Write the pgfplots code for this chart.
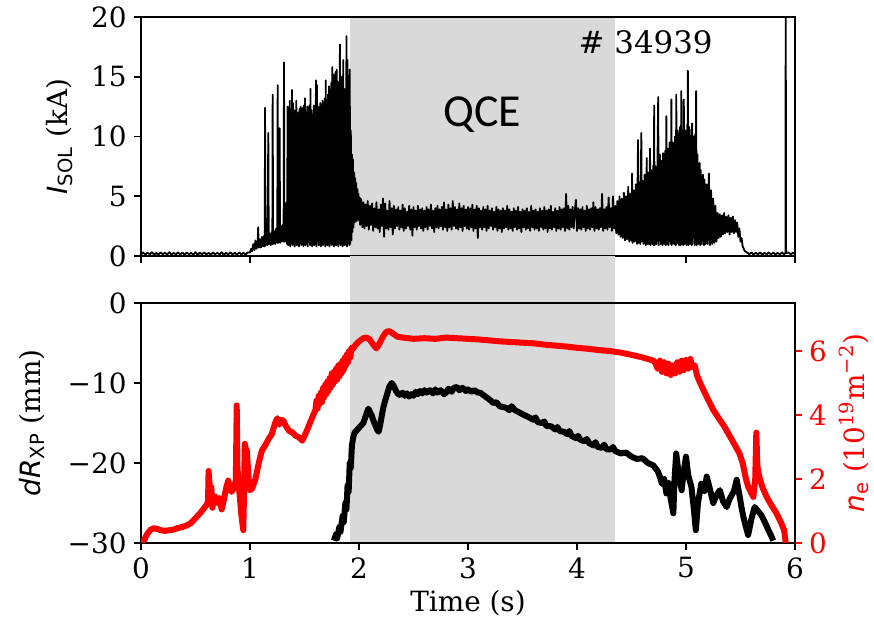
\documentclass[border=0pt]{standalone}
\usepackage{fontspec}
\setmainfont{DejaVu Serif}
\setsansfont{DejaVu Sans}
\newfontfamily\qcefont{Carlito}
\usepackage{pgfplots}
\pgfplotsset{compat=1.18}
\definecolor{qceshade}{RGB}{217,217,217}
\definecolor{nered}{RGB}{255,0,0}

\pgfplotsset{
  panel/.style={
    scale only axis, width=327bp, xmin=0, xmax=6,
    xtick={0,1,...,6},
    tick align=outside, major tick length=3.5bp,
    tick style={line width=0.8bp, black},
    line width=0.8bp,
    font=\fontsize{14}{16}\selectfont,
    /pgf/number format/assume math mode=true,
    xtick pos=left, ytick pos=left,
    axis on top,
  },
}

\begin{document}
\begin{tikzpicture}
\path[use as bounding box] (-70.5bp,-41bp) rectangle (366.5bp,271.5bp);

% ---------------- upper panel: SOL current ----------------
\begin{axis}[panel, name=top, at={(0,143.5bp)}, anchor=south west,
  height=119.5bp, ymin=0, ymax=20, ytick={0,5,10,15,20},
  xticklabel style={text opacity=0},
  ylabel={{\sffamily\itshape I}\textsubscript{\sffamily SOL} (kA)},
  every axis y label/.style={at={(axis description cs:-0.125,0.5)},rotate=90,anchor=center}]
\addplot[fill=qceshade, draw=none] coordinates {(1.92,0)(1.92,20)(4.35,20)(4.35,0)};
\addplot[black, line width=0.9bp, line join=round] coordinates {
(0.00,0.12)(0.02,0.30)(0.04,0.10)(0.06,0.28)(0.08,0.14)(0.10,0.32)(0.12,0.12)(0.14,0.26)(0.16,0.10)(0.18,0.30)
(0.20,0.14)(0.22,0.28)(0.24,0.12)(0.26,0.32)(0.28,0.10)(0.30,0.26)(0.32,0.14)(0.34,0.30)(0.36,0.12)(0.38,0.28)
(0.40,0.10)(0.42,0.30)(0.44,0.14)(0.46,0.26)(0.48,0.12)(0.50,0.32)(0.52,0.10)(0.54,0.28)(0.56,0.14)(0.58,0.30)
(0.60,0.12)(0.62,0.26)(0.64,0.10)(0.66,0.30)(0.68,0.14)(0.70,0.28)(0.72,0.12)(0.74,0.32)(0.76,0.10)(0.78,0.26)
(0.80,0.14)(0.82,0.30)(0.84,0.12)(0.86,0.28)(0.88,0.10)(0.90,0.30)(0.92,0.14)(0.94,0.26)(0.96,0.12)(0.98,0.30)
(1.00,0.3)(1.01,0.6)(1.02,0.4)(1.03,1.0)(1.04,0.5)(1.05,1.3)(1.06,0.6)(1.07,1.2)(1.075,2.4)(1.08,0.7)
(1.09,1.4)(1.10,0.7)(1.11,1.6)(1.12,0.8)(1.13,1.7)(1.135,0.8)(1.138,12.4)(1.142,0.9)(1.15,1.8)(1.16,0.9)
(1.168,10.3)(1.172,1.0)(1.18,1.9)(1.19,0.9)(1.20,2.0)(1.205,1.0)(1.208,13.5)(1.212,1.0)(1.22,2.1)(1.23,1.0)
(1.24,2.3)(1.25,1.1)(1.254,14.3)(1.258,1.1)(1.265,2.4)(1.268,1.2)(1.272,10.7)(1.276,1.1)(1.285,2.5)(1.29,1.2)
(1.30,2.6)(1.308,1.2)(1.312,16.2)(1.316,1.2)(1.325,3.0)(1.33,1.2)(1.335,4.5)
(1.340,1.0)(1.345,12.5)(1.350,0.9)(1.355,11.8)(1.360,1.2)(1.365,13.0)(1.370,0.8)(1.375,12.0)(1.380,1.1)(1.385,13.9)
(1.390,0.9)(1.395,12.8)(1.400,1.0)(1.405,12.2)(1.410,0.8)(1.415,11.5)(1.420,1.2)(1.425,13.0)(1.430,0.9)(1.435,11.0)
(1.440,1.0)(1.445,12.0)(1.450,0.8)(1.455,12.3)(1.460,1.1)(1.465,12.5)(1.470,0.9)(1.475,11.8)(1.480,1.0)(1.485,12.4)
(1.490,0.8)(1.495,12.6)(1.500,1.1)(1.505,13.2)(1.510,0.9)(1.515,12.0)(1.520,1.0)(1.525,12.5)(1.530,0.8)(1.535,11.5)
(1.540,1.2)(1.545,12.6)(1.550,0.9)(1.555,14.0)(1.560,1.0)(1.565,12.2)(1.570,0.8)(1.575,11.8)(1.580,1.1)(1.585,12.6)
(1.590,0.9)(1.595,12.0)(1.600,1.0)(1.605,14.7)(1.610,0.8)(1.615,14.3)(1.620,1.2)(1.625,12.5)(1.630,0.9)(1.635,12.0)
(1.640,1.0)(1.645,12.8)(1.650,0.8)(1.655,12.6)(1.660,1.1)(1.665,13.0)(1.670,0.9)(1.675,12.4)(1.680,1.0)(1.685,13.2)
(1.690,0.8)(1.695,14.7)(1.700,1.2)(1.705,13.0)(1.710,0.9)(1.715,13.5)(1.720,1.0)(1.725,14.2)(1.730,0.8)(1.735,13.9)
(1.740,1.1)(1.745,14.5)(1.750,0.9)(1.755,15.8)(1.760,1.0)(1.765,15.2)(1.770,0.8)(1.775,15.0)(1.780,1.2)(1.785,15.4)
(1.790,0.9)(1.795,15.6)(1.800,1.0)(1.805,14.6)(1.810,0.8)(1.815,14.2)(1.820,1.1)(1.825,17.7)(1.830,0.9)(1.835,15.0)
(1.840,1.0)(1.845,13.5)(1.850,0.8)(1.855,16.4)(1.860,1.2)(1.865,14.0)(1.870,0.9)(1.875,13.0)(1.880,1.0)(1.885,18.4)
(1.890,0.8)(1.895,16.4)(1.900,1.1)(1.905,12.0)(1.910,0.9)(1.915,15.6)(1.920,1.0)(1.925,10.5)(1.930,1.3)(1.935,8.5)
(1.940,2.0)(1.945,8.1)(1.950,2.4)(1.955,7.0)(1.960,2.8)(1.965,6.5)(1.970,3.0)(1.975,6.1)(1.980,2.9)(1.985,5.6)
(1.990,3.1)(1.995,5.2)(2.000,3.0)(2.005,4.9)(2.010,2.6)(2.015,4.8)
(2.02,4.7)(2.03,2.4)(2.04,4.5)(2.05,2.3)(2.06,4.3)(2.07,2.5)(2.08,4.6)(2.09,2.2)(2.10,4.2)(2.11,2.6)
(2.12,4.4)(2.13,2.1)(2.14,4.0)(2.15,2.4)(2.16,4.5)(2.17,2.3)(2.18,3.9)(2.19,2.0)(2.20,4.3)(2.21,2.5)
(2.22,4.8)(2.23,1.6)(2.24,4.4)(2.25,2.3)(2.26,3.8)(2.27,2.2)(2.28,4.6)(2.29,2.4)(2.30,4.0)(2.31,1.8)
(2.32,4.2)(2.33,2.3)(2.34,3.9)(2.35,2.5)(2.36,4.1)(2.37,2.2)(2.38,3.8)(2.39,2.4)(2.40,4.3)(2.41,2.1)
(2.42,4.0)(2.43,2.3)(2.44,3.7)(2.45,2.5)(2.46,4.2)(2.47,2.2)(2.48,3.9)(2.49,1.7)(2.50,4.1)(2.51,2.4)
(2.52,3.8)(2.53,2.2)(2.54,4.2)(2.55,2.5)(2.56,3.9)(2.57,2.3)(2.58,4.0)(2.59,2.1)(2.60,3.8)(2.61,2.4)
(2.62,4.1)(2.63,2.2)(2.64,3.9)(2.65,2.5)(2.66,4.3)(2.67,2.3)(2.68,3.8)(2.69,2.0)(2.70,4.0)(2.71,2.4)
(2.72,4.2)(2.73,2.3)(2.74,3.9)(2.75,2.5)(2.76,4.1)(2.77,2.2)(2.78,4.5)(2.79,2.4)(2.80,3.9)(2.81,2.1)
(2.82,4.3)(2.83,2.4)(2.84,4.0)(2.85,2.2)(2.86,4.6)(2.87,2.5)(2.88,4.1)(2.89,2.3)(2.90,3.9)(2.91,2.2)
(2.92,4.4)(2.93,2.4)(2.94,4.0)(2.95,2.1)(2.96,4.2)(2.97,2.5)(2.98,3.9)(2.99,2.3)(3.00,4.1)(3.01,2.2)
(3.02,4.0)(3.03,2.4)(3.04,4.3)(3.05,2.1)(3.06,3.9)(3.07,2.3)(3.08,4.2)(3.09,1.5)(3.10,4.0)(3.11,2.4)
(3.12,3.8)(3.13,2.2)(3.14,4.1)(3.15,2.4)(3.16,3.9)(3.17,2.1)(3.18,4.2)(3.19,2.3)(3.20,3.8)(3.21,2.5)
(3.22,4.0)(3.23,2.2)(3.24,3.7)(3.25,2.4)(3.26,4.1)(3.27,2.1)(3.28,3.9)(3.29,2.3)(3.30,3.8)(3.31,2.0)
(3.32,4.0)(3.33,2.3)(3.34,3.8)(3.35,2.4)(3.36,4.2)(3.37,2.2)(3.38,3.9)(3.39,2.3)(3.40,3.7)(3.41,2.1)
(3.42,4.0)(3.43,2.4)(3.44,3.8)(3.45,2.2)(3.46,4.1)(3.47,2.3)(3.48,3.7)(3.49,2.0)(3.50,3.9)(3.51,2.4)
(3.52,3.8)(3.53,2.2)(3.54,4.0)(3.55,2.3)(3.56,3.7)(3.57,2.1)(3.58,4.2)(3.59,2.4)(3.60,3.8)(3.61,2.2)
(3.62,3.9)(3.63,2.3)(3.64,3.7)(3.65,2.1)(3.66,4.0)(3.67,2.4)(3.68,3.8)(3.69,2.2)(3.70,4.1)(3.71,2.3)
(3.72,3.8)(3.73,2.0)(3.74,3.9)(3.75,2.3)(3.76,4.2)(3.77,2.2)(3.78,3.7)(3.79,2.4)(3.80,4.0)(3.81,2.1)
(3.82,3.8)(3.83,2.3)(3.84,4.1)(3.85,2.2)(3.86,3.9)(3.87,2.4)(3.88,4.0)(3.89,2.1)(3.90,5.2)(3.91,2.3)
(3.92,4.2)(3.93,2.2)(3.94,3.9)(3.95,2.4)(3.96,4.1)(3.97,2.3)(3.98,3.8)(3.99,4.7)(4.00,2.1)(4.01,4.0)
(4.02,2.3)(4.03,3.9)(4.04,2.2)(4.05,4.1)(4.06,2.4)(4.07,3.8)(4.08,2.1)(4.09,4.2)(4.10,2.3)(4.11,3.9)
(4.12,2.2)(4.13,4.0)(4.14,2.4)(4.15,4.5)(4.16,2.1)(4.17,4.1)(4.18,2.3)(4.19,3.9)(4.20,2.2)(4.21,4.0)
(4.22,2.4)(4.23,5.2)(4.24,2.1)(4.25,3.9)(4.26,2.3)(4.27,4.1)(4.28,2.2)(4.29,4.9)(4.30,2.4)(4.31,4.0)
(4.32,2.1)(4.33,5.0)(4.34,2.3)(4.35,4.2)
(4.36,1.9)(4.37,4.6)(4.38,1.8)(4.39,5.0)(4.40,1.6)(4.41,4.8)(4.42,1.5)(4.43,5.3)(4.44,1.3)(4.45,5.0)
(4.46,1.4)(4.47,5.8)(4.48,1.2)(4.49,5.2)(4.50,1.3)(4.505,6.9)(4.51,1.1)(4.52,5.5)(4.53,1.2)(4.54,6.0)(4.55,1.0)
(4.56,9.7)(4.565,1.1)(4.57,6.2)(4.58,1.0)(4.59,10.3)(4.595,1.2)(4.60,6.3)(4.61,1.0)(4.62,6.8)(4.63,0.9)
(4.64,8.2)(4.645,1.0)(4.65,7.0)(4.66,1.0)(4.67,9.0)(4.675,0.9)(4.68,7.2)(4.69,1.0)(4.70,7.6)(4.705,0.9)
(4.708,12.6)(4.712,0.9)(4.72,7.5)(4.73,1.0)(4.745,13.3)(4.75,0.9)(4.76,8.5)(4.77,1.0)(4.78,8.0)(4.785,0.9)
(4.79,8.6)(4.80,1.0)(4.81,8.8)(4.815,0.9)(4.82,11.7)(4.825,1.0)(4.83,9.0)(4.84,0.9)(4.85,9.5)(4.86,1.0)
(4.866,13.1)(4.87,0.9)(4.88,9.5)(4.89,1.0)(4.90,10.0)(4.905,0.9)(4.911,13.5)(4.915,1.0)(4.925,10.5)(4.935,0.9)
(4.945,10.8)(4.95,0.9)(4.957,13.8)(4.962,1.0)(4.97,10.5)(4.975,0.9)(4.98,13.1)(4.985,1.0)(4.995,10.5)(5.005,0.9)
(5.012,11.0)(5.015,1.0)(5.017,15.5)(5.022,0.9)(5.03,10.8)(5.04,1.0)(5.05,10.6)(5.053,0.9)(5.056,11.1)(5.06,1.0)
(5.07,10.0)(5.08,0.9)(5.085,10.2)(5.09,1.0)(5.093,13.8)(5.098,0.9)(5.105,8.5)(5.115,1.0)(5.125,7.8)(5.13,0.9)
(5.135,7.2)(5.145,1.0)(5.155,6.8)(5.165,0.9)(5.17,6.4)(5.18,1.0)(5.19,6.0)(5.20,1.0)(5.21,6.9)(5.22,0.9)
(5.23,5.5)(5.24,1.0)(5.25,4.8)(5.26,1.1)(5.27,4.2)(5.28,1.2)(5.29,3.6)(5.30,1.5)(5.31,3.5)(5.32,1.6)
(5.33,3.4)(5.34,1.8)(5.35,3.6)(5.36,1.9)(5.37,3.3)(5.38,2.0)(5.39,3.4)(5.40,1.8)(5.41,3.2)(5.42,2.0)
(5.43,3.3)(5.44,1.9)(5.45,3.0)(5.46,2.0)(5.47,2.8)(5.48,1.6)(5.49,2.3)(5.50,1.2)(5.51,1.5)(5.52,0.8)
(5.53,0.6)(5.54,0.4)(5.56,0.30)(5.58,0.15)(5.60,0.30)(5.62,0.12)(5.64,0.28)(5.66,0.14)(5.68,0.30)(5.70,0.12)
(5.72,0.26)(5.74,0.14)(5.76,0.30)(5.78,0.12)(5.80,0.28)(5.82,0.14)(5.84,0.26)(5.86,0.12)(5.88,0.30)(5.90,0.14)
(5.912,0.25)(5.915,22)(5.918,0.25)(5.94,0.30)(5.96,0.14)(5.98,0.26)(6.00,0.20)
};
\node[font=\qcefont\fontsize{23}{26}\selectfont] at (axis cs:3.13,11.8) {QCE};
\node[font=\fontsize{15.5}{18}\selectfont] at (axis cs:4.63,17.9) {\# 34939};
\end{axis}

% ---------------- lower panel: X-point shift ----------------
\begin{axis}[panel, name=bot, at={(0,0)}, anchor=south west,
  height=120bp, ymin=-30, ymax=0, ytick={-30,-20,-10,0},
  yticklabels={−30,−20,−10,0},
  clip=false,
  xlabel={Time (s)},
  ylabel={{\sffamily\itshape dR}\textsubscript{\sffamily XP} (mm)},
  every axis y label/.style={at={(axis description cs:-0.167,0.5)},rotate=90,anchor=center},
  every axis x label/.style={at={(axis description cs:0.5,-0.25)},anchor=center}]
% shaded QCE window, carried up through the gap between the panels
\addplot[fill=qceshade, draw=none] coordinates {(1.92,-30)(1.92,5.9)(4.35,5.9)(4.35,-30)};
\addplot[black, line width=3bp, line join=round] coordinates {
(1.770,-29.7)(1.79,-28.9)(1.80,-29.4)(1.82,-28.0)(1.83,-28.6)(1.85,-26.6)(1.86,-27.4)(1.875,-25.0)(1.885,-25.8)(1.895,-22.8)
(1.905,-23.6)(1.915,-20.0)(1.925,-20.6)(1.935,-17.8)
(1.948,-16.7)(1.96,-16.2)(1.98,-15.9)(2.00,-15.6)(2.02,-15.3)(2.04,-15.0)(2.06,-14.2)(2.075,-13.6)(2.086,-13.2)(2.10,-13.6)
(2.115,-14.0)(2.13,-14.6)(2.15,-15.3)(2.165,-15.8)(2.18,-16.1)(2.195,-15.2)(2.21,-14.0)(2.224,-13.0)(2.24,-12.2)(2.26,-11.3)
(2.28,-10.4)(2.30,-10.0)(2.32,-10.4)(2.34,-11.0)(2.36,-11.4)(2.38,-11.5)(2.40,-11.2)(2.42,-11.6)(2.44,-11.3)(2.46,-11.7)
(2.48,-11.4)(2.50,-11.6)(2.52,-11.1)(2.54,-11.4)(2.56,-11.0)(2.58,-11.3)(2.60,-10.9)(2.62,-11.2)(2.65,-10.9)(2.68,-11.3)
(2.70,-10.8)(2.72,-11.2)(2.75,-10.9)(2.78,-11.4)(2.80,-11.2)(2.82,-10.7)(2.85,-11.1)(2.87,-10.6)(2.90,-10.5)(2.92,-10.9)
(2.95,-10.6)(2.98,-11.0)(3.00,-10.8)(3.03,-11.1)(3.06,-10.9)(3.09,-11.2)(3.11,-11.2)(3.14,-11.5)(3.17,-11.8)(3.20,-12.1)
(3.23,-12.5)(3.26,-12.4)(3.29,-12.9)(3.32,-13.0)(3.35,-13.1)(3.38,-13.4)(3.40,-12.9)(3.43,-13.4)(3.46,-13.6)(3.50,-13.9)
(3.53,-14.1)(3.56,-14.3)(3.60,-14.6)(3.62,-14.3)(3.64,-14.9)(3.68,-15.0)(3.70,-14.8)(3.72,-15.4)(3.76,-15.4)(3.80,-15.8)
(3.82,-15.5)(3.84,-16.0)(3.88,-16.1)(3.91,-16.4)(3.93,-16.0)(3.95,-16.6)(3.99,-16.9)(4.01,-16.6)(4.03,-17.1)(4.07,-17.3)
(4.09,-17.0)(4.11,-17.5)(4.15,-17.8)(4.17,-17.4)(4.19,-18.0)(4.23,-18.1)(4.25,-17.7)(4.27,-18.3)(4.31,-18.3)(4.33,-18.0)
(4.35,-18.5)(4.40,-18.8)(4.45,-18.7)(4.50,-19.2)(4.55,-19.5)(4.60,-19.4)(4.65,-20.0)(4.70,-20.3)(4.74,-21.0)(4.76,-21.7)
(4.78,-22.6)(4.80,-22.0)(4.82,-23.8)(4.84,-22.5)(4.86,-24.5)(4.884,-26.3)(4.895,-22.0)(4.91,-18.8)(4.93,-21.0)(4.96,-23.4)
(4.98,-21.0)(5.00,-19.2)(5.02,-21.5)(5.05,-23.0)(5.07,-25.5)(5.09,-28.4)(5.11,-25.0)(5.14,-22.6)(5.17,-23.5)(5.19,-21.7)
(5.22,-23.3)(5.25,-25.0)(5.28,-24.0)(5.31,-23.4)(5.34,-24.8)(5.373,-25.5)(5.40,-24.5)(5.44,-23.5)(5.465,-22.1)(5.49,-24.0)
(5.51,-25.6)(5.526,-26.7)(5.55,-28.0)(5.57,-29.0)(5.60,-27.0)(5.63,-25.5)(5.66,-26.0)(5.69,-26.5)(5.72,-27.3)(5.75,-28.2)
(5.785,-29.2)(5.80,-29.7)
};
\end{axis}

% ---------------- lower panel, right axis: line density ----------------
\begin{axis}[scale only axis, width=327bp, height=120bp, at={(0,0)}, anchor=south west,
  xmin=0, xmax=6, ymin=0, ymax=7.5,
  axis x line=none, axis y line*=right,
  ytick={0,2,4,6},
  tick align=outside, major tick length=3.5bp,
  tick style={line width=0.8bp, nered},
  y axis line style={black, line width=0.8bp},
  yticklabel style={text=nered},
  font=\fontsize{14}{16}\selectfont,
  /pgf/number format/assume math mode=true,
  ylabel={{\sffamily\itshape n}\textsubscript{\sffamily e} (10\textsuperscript{19}m\textsuperscript{−2})},
  every axis y label/.style={at={(axis description cs:1.090,0.5)},rotate=90,anchor=center,text=nered}]
\addplot[nered, line width=3bp, line join=round] coordinates {
(0.00,0.02)(0.03,0.10)(0.06,0.30)(0.09,0.42)(0.12,0.46)(0.15,0.44)(0.18,0.40)(0.22,0.38)(0.26,0.40)(0.30,0.42)
(0.34,0.47)(0.38,0.50)(0.42,0.55)(0.46,0.63)(0.50,0.78)(0.54,0.92)(0.57,1.05)(0.60,1.18)(0.615,1.30)(0.62,2.25)
(0.628,1.90)(0.635,1.55)(0.645,1.75)(0.655,1.10)(0.665,1.30)(0.68,1.45)(0.70,1.25)(0.72,1.40)(0.74,1.05)(0.76,1.35)
(0.78,1.70)(0.80,1.95)(0.815,1.75)(0.83,1.60)(0.85,1.70)(0.87,1.95)(0.878,4.30)(0.885,2.40)(0.893,1.90)(0.905,1.50)
(0.92,0.90)(0.938,0.40)(0.945,1.50)(0.952,3.10)(0.96,2.95)(0.97,2.90)(0.98,2.40)(0.99,1.90)(1.00,1.65)(1.02,1.70)
(1.05,2.00)(1.08,2.50)(1.11,2.90)(1.14,3.05)(1.17,3.25)(1.20,3.40)(1.23,3.75)(1.25,3.90)(1.27,3.70)(1.29,3.85)
(1.31,3.80)(1.33,3.65)(1.36,3.50)(1.39,3.45)(1.42,3.35)(1.45,3.30)(1.48,3.20)(1.50,3.35)(1.52,3.50)(1.55,3.75)
(1.58,4.00)(1.60,4.15)(1.61,4.45)(1.62,4.20)(1.63,4.60)(1.64,4.35)(1.65,4.70)(1.66,4.40)(1.67,4.85)(1.68,4.55)
(1.69,4.95)(1.70,4.65)(1.71,5.05)(1.72,4.75)(1.73,5.15)(1.74,4.85)(1.75,5.30)(1.76,4.95)(1.77,5.35)(1.78,5.05)
(1.79,5.45)(1.80,5.10)(1.81,5.55)(1.82,5.20)(1.83,5.60)(1.84,5.30)(1.85,5.70)(1.86,5.40)(1.87,5.80)(1.88,5.55)
(1.89,5.90)(1.90,5.65)(1.91,6.00)(1.92,5.80)(1.93,6.10)(1.94,6.05)(1.97,6.20)(2.00,6.30)(2.04,6.40)(2.07,6.42)
(2.10,6.35)(2.13,6.20)(2.16,6.08)(2.19,6.25)(2.22,6.45)(2.25,6.60)(2.28,6.62)(2.31,6.55)(2.35,6.45)(2.40,6.42)
(2.45,6.40)(2.50,6.38)(2.60,6.40)(2.70,6.38)(2.80,6.42)(2.90,6.40)(3.00,6.38)(3.10,6.36)(3.20,6.33)(3.30,6.30)
(3.40,6.28)(3.50,6.26)(3.60,6.24)(3.70,6.20)(3.80,6.17)(3.90,6.14)(4.00,6.10)(4.10,6.07)(4.20,6.03)(4.30,6.00)
(4.40,5.95)(4.50,5.88)(4.60,5.80)(4.70,5.70)(4.72,5.62)(4.74,5.45)(4.76,5.70)(4.78,5.35)(4.80,5.65)(4.82,5.30)
(4.84,5.60)(4.86,5.25)(4.88,5.55)(4.90,5.30)(4.92,5.65)(4.94,5.35)(4.96,5.70)(4.98,5.40)(5.00,5.72)(5.02,5.45)
(5.04,5.75)(5.06,5.50)(5.08,5.55)(5.10,5.25)(5.13,5.00)(5.16,4.78)(5.20,4.50)(5.25,4.16)(5.30,3.90)(5.35,3.65)
(5.40,3.35)(5.45,3.05)(5.49,2.80)(5.52,2.50)(5.55,2.00)(5.57,1.76)(5.60,1.55)(5.618,1.44)(5.635,2.00)(5.645,3.45)
(5.655,2.40)(5.67,2.10)(5.70,1.75)(5.74,1.44)(5.78,1.20)(5.83,0.93)(5.87,0.65)(5.90,0.40)(5.915,0.00)
};
\end{axis}
\end{tikzpicture}
\end{document}
